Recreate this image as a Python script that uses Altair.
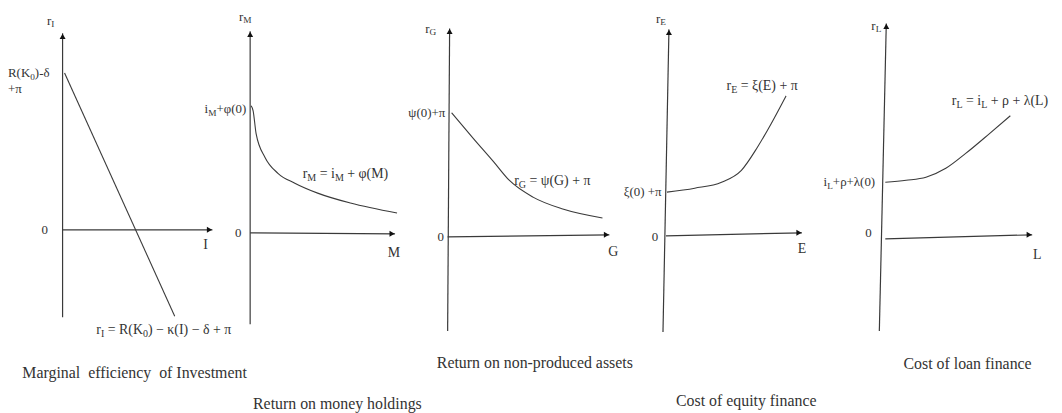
import altair as alt
import pandas as pd

# ---------------- diagram data (page units: x to the right, y downward) -------------
inv_x = [65, 176]
inv_y = [72, 317]
money_x = [253, 255, 258, 267, 280, 297, 320, 353, 400]
money_y = [105, 110, 133, 157, 173, 183, 193, 203, 213]
land_x = [455, 477, 497, 513, 537, 567, 607]
land_y = [112, 138, 161, 180, 197, 209, 218]
equity_x = [672, 700, 727, 747, 763, 777, 792]
equity_y = [192, 188, 182, 170, 147, 123, 95]
loan_x = [892, 913, 933, 953, 973, 997, 1018]
loan_y = [182, 180, 177, 168, 153, 133, 115]

panel_names = ["I", "M", "G", "E", "L"]
yaxis_top_x = [63, 252, 453, 674, 893]
yaxis_top_y = [32, 30, 27, 28, 22]
yaxis_bot_x = [63, 252, 451, 668, 886]
yaxis_bot_y = [318, 325, 332, 333, 332]
xaxis_start_x = [63, 252, 451, 671, 892]
xaxis_start_y = [230, 233, 237, 236, 239]
xaxis_end_x = [214, 398, 614, 808, 1040]
xaxis_end_y = [230, 234, 235, 233, 235]

# labels: markup text (_{..} = subscript), anchor x, centre y, font size, alignment
label_text = [
    "r_{I}", "r_{M}", "r_{G}", "r_{E}", "r_{L}",
    "R(K_{0})-δ", "+π", "i_{M}+φ(0)", "ψ(0)+π", "ξ(0) +π", "i_{L}+ρ+λ(0)",
    "0", "0", "0", "0", "0",
    "I", "M", "G", "E", "L",
    "r_{I} = R(K_{0}) − κ(I) − δ + π", "r_{M} = i_{M} + φ(M)", "r_{G} = ψ(G) + π",
    "r_{E} = ξ(E) + π", "r_{L} = i_{L} + ρ + λ(L)",
    "Marginal  efficiency  of Investment", "Return on money holdings",
    "Return on non-produced assets", "Cost of equity finance", "Cost of loan finance",
]
label_x = [51, 247, 434, 666, 883,
           8, 8, 249, 450, 667, 882,
           45, 240, 444, 660, 875,
           207, 397, 618, 808, 1045,
           97, 305, 518, 732, 959,
           136, 340, 539, 752, 975]
label_y = [19, 15, 27, 17, 24,
           72, 88, 108, 112, 192, 182,
           230, 233, 237, 237, 233,
           245, 253, 252, 249, 255,
           330, 173, 180, 85, 100,
           374, 405, 364, 402, 365]
label_size = [13, 13, 13, 13, 13,
              13, 13, 13, 13, 13, 13,
              13, 13, 13, 13, 13,
              14, 14, 14, 14, 14,
              14, 14, 14, 14, 14,
              16, 16, 16, 16, 16]
label_align = ["center"] * 5 + ["left", "left", "right", "right", "right", "right"] + \
              ["center"] * 10 + ["left"] * 5 + ["center"] * 5

# ---------------- build tables ----------------
curve_rows = []
for cid, (xs_, ys_) in enumerate([(inv_x, inv_y), (money_x, money_y), (land_x, land_y),
                                  (equity_x, equity_y), (loan_x, loan_y)]):
    for k, (xv, yv) in enumerate(zip(xs_, ys_)):
        curve_rows.append({"id": cid, "order": k, "x": xv, "y": yv})
curves = pd.DataFrame(curve_rows)

axes = pd.DataFrame({
    "x": yaxis_top_x + xaxis_start_x,
    "y": yaxis_top_y + xaxis_start_y,
    "x2": yaxis_bot_x + xaxis_end_x,
    "y2": yaxis_bot_y + xaxis_end_y,
})
heads_up = pd.DataFrame({"x": yaxis_top_x, "y": [v + 3 for v in yaxis_top_y]})
heads_right = pd.DataFrame({"x": [v - 3 for v in xaxis_end_x], "y": xaxis_end_y})

NB = "\u00a0"
W = {" ": 250, NB: 250, "(": 333, ")": 333, "+": 564, "-": 333, "=": 564, "−": 564,
     "A": 722, "B": 667, "C": 667, "D": 722, "E": 611, "F": 556, "G": 722, "H": 722, "I": 333,
     "K": 722, "L": 611, "M": 889, "R": 667,
     "a": 444, "b": 500, "c": 444, "d": 500, "e": 444, "f": 333, "g": 500, "h": 500, "i": 278,
     "l": 278, "m": 778, "n": 500, "o": 500, "p": 500, "q": 500, "r": 333, "s": 389, "t": 278,
     "u": 500, "v": 500, "y": 500, "δ": 500, "κ": 540, "π": 550, "ρ": 500, "λ": 500, "ξ": 440,
     "ψ": 690, "φ": 650}


def parse(markup):
    segs, i, buf = [], 0, ""
    while i < len(markup):
        if markup.startswith("_{", i):
            if buf:
                segs.append((buf, False))
                buf = ""
            j = markup.index("}", i)
            segs.append((markup[i + 2:j], True))
            i = j + 1
        else:
            buf += markup[i]
            i += 1
    if buf:
        segs.append((buf, False))
    return segs


def width(s, size):
    return sum(W.get(c, 500) for c in s) / 1000 * size


text_rows = []
for t, ax, cy, sz, al in zip(label_text, label_x, label_y, label_size, label_align):
    segs = parse(t)
    sizes = [sz * 0.72 if sub else sz for _, sub in segs]
    total = sum(width(s, z) for (s, _), z in zip(segs, sizes))
    x0 = ax if al == "left" else (ax - total if al == "right" else ax - total / 2)
    base = cy + 0.32 * sz
    for (s, sub), z in zip(segs, sizes):
        core = s.strip(" ")
        lead = s[: len(s) - len(s.lstrip(" "))]
        if core:
            text_rows.append({"x": x0 + width(lead, z),
                              "y": base + (0.22 * sz if sub else 0),
                              "text": core.replace(" ", NB), "size": z})
        x0 += width(s, z)
texts = pd.DataFrame(text_rows)

# ---------------- chart ----------------
xs = alt.Scale(domain=[8, 1062], nice=False, zero=False)
ys = alt.Scale(domain=[8, 413], reverse=True, nice=False, zero=False)
ink = "#3a3a3a"

axis_layer = alt.Chart(axes).mark_rule(color=ink, strokeWidth=1.2).encode(
    x=alt.X("x:Q", scale=xs, axis=None), y=alt.Y("y:Q", scale=ys, axis=None),
    x2="x2:Q", y2="y2:Q")

curve_layer = alt.Chart(curves).mark_line(color=ink, strokeWidth=1.1, interpolate="monotone").encode(
    x=alt.X("x:Q", scale=xs, axis=None), y=alt.Y("y:Q", scale=ys, axis=None),
    detail="id:N", order="order:Q")

up_layer = alt.Chart(heads_up).mark_point(shape="triangle-up", filled=True, size=36,
                                          color="#111", opacity=1).encode(
    x=alt.X("x:Q", scale=xs, axis=None), y=alt.Y("y:Q", scale=ys, axis=None))

right_layer = alt.Chart(heads_right).mark_point(shape="triangle-right", filled=True, size=36,
                                                color="#111", opacity=1).encode(
    x=alt.X("x:Q", scale=xs, axis=None), y=alt.Y("y:Q", scale=ys, axis=None))

text_layer = alt.Chart(texts).mark_text(align="left", baseline="alphabetic",
                                        font="Liberation Serif", color="#333").encode(
    x=alt.X("x:Q", scale=xs, axis=None), y=alt.Y("y:Q", scale=ys, axis=None),
    text="text:N", size=alt.Size("size:Q", scale=None, legend=None))

chart = alt.layer(axis_layer, curve_layer, up_layer, right_layer, text_layer).properties(
    width=1054, height=405, autosize=alt.AutoSizeParams(type="none"), padding=0,
    background="white"
).configure_view(stroke=None)

chart.save("out.html", embed_options={"renderer": "svg", "actions": False})
